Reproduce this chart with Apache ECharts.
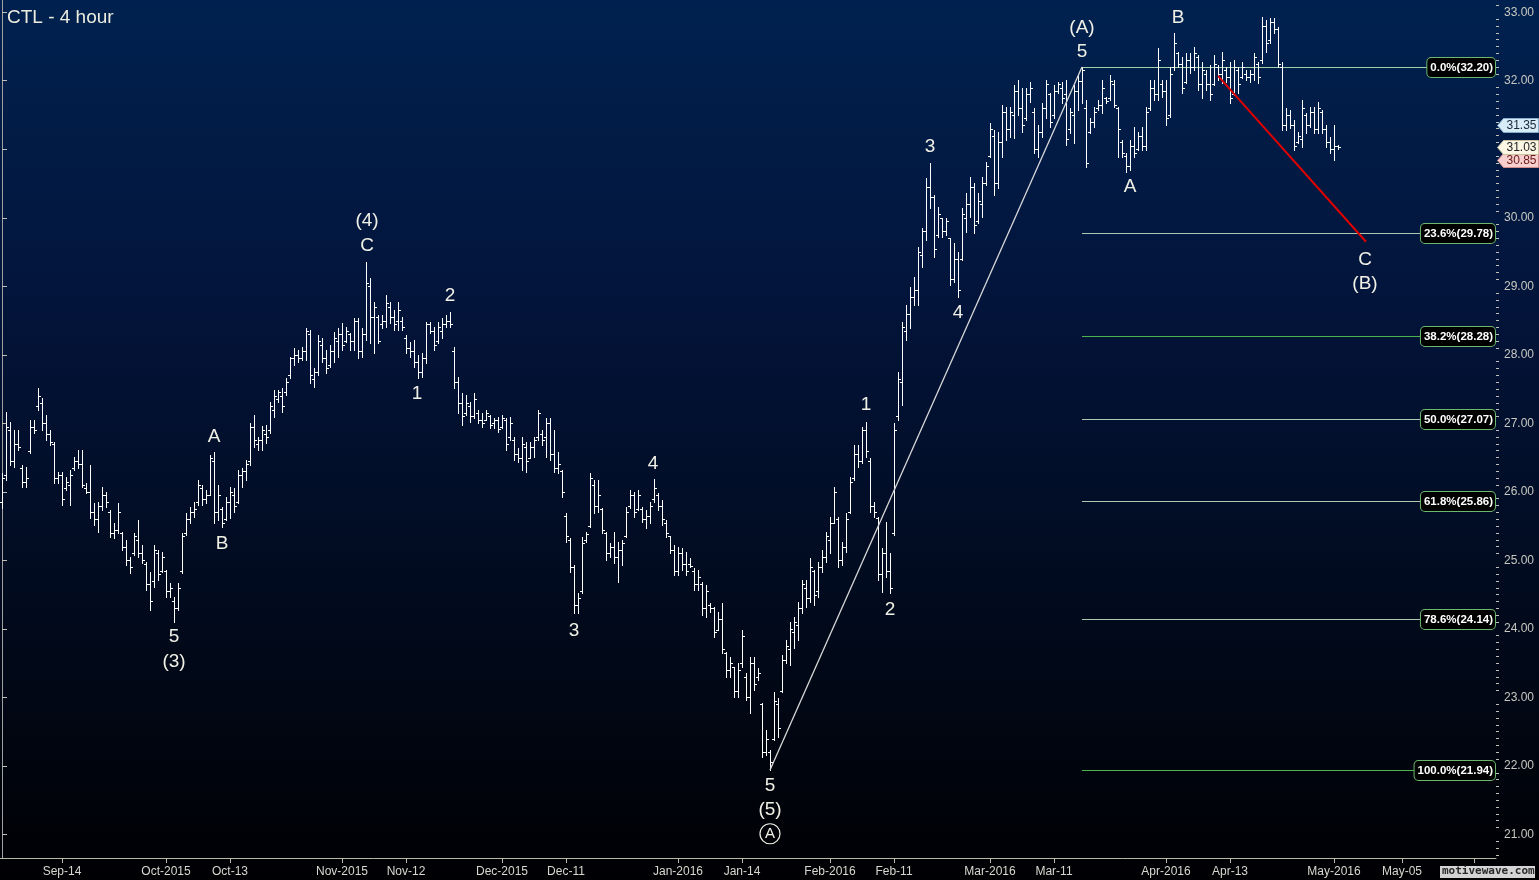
<!DOCTYPE html>
<html>
<head>
<meta charset="utf-8">
<script src="https://cdn.jsdelivr.net/npm/echarts/dist/echarts.min.js"></script>
<style>
html,body{margin:0;padding:0;background:#000;}
#chart{width:1539px;height:880px;}
</style>
</head>
<body>
<div id="chart"></div>
<script>
// ---------------- DATA ----------------
const barOpen = [
25.85,26.25,26.90,26.45,26.70,26.35,26.15,26.60,26.95,27.25,
27.30,27.00,26.85,26.70,26.20,26.25,26.05,26.10,26.35,26.45,
26.40,26.05,26.00,25.70,25.60,25.80,25.95,25.70,25.40,25.45,
25.40,25.20,25.00,25.10,25.30,25.10,24.95,24.65,24.70,25.10,
24.85,24.85,24.55,24.40,24.30,24.85,25.40,25.60,25.70,25.85,
26.05,25.90,25.95,26.45,25.70,25.75,25.60,25.85,25.95,25.85,
26.25,26.30,26.45,26.95,26.70,26.75,26.85,26.90,27.20,27.35,
27.40,27.45,27.70,27.95,28.00,27.95,28.05,28.30,27.65,27.75,
28.15,27.95,27.85,28.05,28.20,28.30,28.20,28.30,28.20,28.50,
28.05,28.30,29.00,28.55,28.55,28.45,28.50,28.70,28.55,28.50,
28.50,28.25,28.10,28.05,27.90,27.75,27.95,28.45,28.35,28.20,
28.35,28.45,28.50,28.05,27.60,27.30,27.15,27.25,27.10,27.15,
27.05,27.05,27.10,27.00,27.05,26.95,27.05,26.80,26.75,26.55,
26.50,26.65,26.50,26.65,26.80,26.85,26.80,27.00,26.55,26.35,
26.30,25.65,25.30,24.90,24.35,24.55,25.30,25.50,26.10,25.80,
25.75,25.40,25.10,25.20,25.05,25.15,25.35,25.80,25.95,25.75,
25.75,25.60,25.65,25.90,25.95,25.80,25.55,25.35,25.15,24.85,
25.10,24.95,24.95,24.85,24.65,24.65,24.30,24.35,24.30,23.98,
24.15,23.65,23.40,23.45,23.10,23.50,23.30,23.00,23.50,23.30,
22.90,22.20,22.20,22.40,22.90,23.10,23.55,23.70,23.95,24.05,
24.30,24.60,24.45,24.85,24.55,24.90,25.05,25.30,25.55,25.60,
25.00,25.20,25.70,26.20,26.55,26.45,26.90,26.45,25.80,25.62,
24.80,25.10,24.85,25.40,27.10,27.60,28.35,28.60,28.85,28.95,
29.45,29.80,30.45,30.30,29.75,30.00,29.80,29.70,29.10,29.40,
29.40,30.00,30.20,30.45,29.95,30.20,30.50,30.90,31.20,30.50,
31.10,31.55,31.30,31.50,31.85,31.60,31.45,31.80,31.55,31.00,
31.25,31.60,31.80,31.50,31.85,31.90,31.80,31.30,31.50,31.85,
32.00,31.60,31.25,31.40,31.60,31.65,31.75,31.75,31.95,31.60,
31.10,30.90,30.75,31.05,31.00,31.20,31.05,31.60,31.90,31.80,
31.95,31.85,31.50,32.20,32.40,32.25,31.98,32.30,32.20,32.35,
31.95,32.10,31.95,31.95,32.20,32.10,32.15,32.05,31.80,32.15,
32.05,32.10,32.05,32.10,32.25,32.30,32.80,32.60,32.85,32.75,
32.20,31.35,31.50,31.35,31.10,31.15,31.50,31.35,31.55,31.30,
31.55,31.30,31.10,31.00,31.04
];
const barHigh = [
26.28,27.16,27.02,26.90,26.90,26.39,26.36,27.05,27.05,27.51,
27.37,27.12,26.90,26.73,26.29,26.29,26.22,26.32,26.51,26.61,
26.61,26.13,26.39,25.84,25.85,26.07,26.00,25.74,25.55,25.84,
25.41,25.30,25.05,25.40,25.59,25.22,24.98,24.83,25.22,25.15,
25.12,24.86,24.67,24.46,24.67,25.40,25.69,25.78,25.85,26.17,
26.10,26.03,26.54,26.58,26.10,25.78,25.92,26.07,26.05,26.32,
26.35,26.46,27.00,27.12,26.80,26.96,26.98,27.31,27.49,27.49,
27.52,27.66,27.97,28.10,28.07,28.11,28.39,28.36,27.81,28.29,
28.24,28.07,28.14,28.33,28.39,28.46,28.41,28.32,28.54,28.54,
28.39,29.35,29.12,28.77,28.58,28.58,28.87,28.77,28.65,28.77,
28.55,28.29,28.19,28.22,28.00,28.03,28.48,28.48,28.41,28.48,
28.54,28.58,28.63,28.11,27.68,27.44,27.41,27.31,27.44,27.19,
27.15,27.19,27.12,27.08,27.09,27.12,27.08,27.09,26.80,26.64,
26.80,26.73,26.73,26.80,27.19,26.90,27.08,27.08,26.90,26.58,
26.32,25.69,25.33,24.93,24.52,25.34,25.41,26.28,26.17,26.17,
25.76,25.41,25.25,25.41,25.27,25.30,25.78,26.03,26.00,26.03,
25.78,25.73,25.85,26.19,25.98,25.88,25.59,25.36,25.22,25.19,
25.18,25.12,25.03,24.89,24.86,24.68,24.64,24.38,24.32,24.25,
24.38,23.66,23.59,23.45,23.50,23.98,23.36,23.59,23.59,23.43,
22.92,22.53,22.23,23.08,22.99,23.62,23.84,24.10,24.17,24.39,
24.71,24.71,25.03,24.86,24.98,25.15,25.41,25.63,26.07,25.63,
25.27,25.69,26.22,26.68,26.68,26.95,27.02,26.49,25.85,25.63,
25.18,25.56,25.11,27.00,27.75,28.48,28.73,28.99,29.14,29.57,
29.85,30.58,30.80,30.33,30.16,30.00,30.00,29.71,29.63,29.50,
30.14,30.36,30.59,30.51,30.36,30.59,30.81,31.38,31.28,31.25,
31.65,31.62,31.62,31.94,32.01,31.89,31.89,31.98,31.60,31.35,
31.67,32.01,31.82,31.94,31.98,31.98,32.01,31.60,31.94,32.08,
32.20,31.72,31.46,31.62,31.72,32.01,31.76,32.08,32.01,31.62,
31.13,30.95,31.13,31.32,31.25,31.32,31.62,32.01,32.01,32.48,
32.01,32.01,32.20,32.70,32.42,32.35,32.40,32.40,32.49,32.38,
32.27,32.16,32.23,32.38,32.23,32.42,32.20,32.27,32.30,32.20,
32.27,32.16,32.16,32.40,32.27,32.93,32.89,32.92,32.92,32.78,
32.27,31.60,31.57,31.43,31.25,31.72,31.53,31.62,31.62,31.69,
31.57,31.35,31.18,31.35,31.06
];
const barLow = [
25.77,26.17,26.39,26.36,26.61,26.07,26.07,26.56,26.86,27.19,
26.90,26.76,26.68,26.13,26.13,25.81,26.03,25.81,26.32,26.35,
26.07,25.98,25.62,25.52,25.41,25.74,25.78,25.34,25.33,25.40,
25.15,24.93,24.81,25.08,25.05,24.96,24.57,24.28,24.61,24.71,
24.83,24.46,24.46,24.10,24.28,24.82,25.37,25.55,25.63,25.81,
25.81,25.84,25.95,25.55,25.59,25.49,25.59,25.62,25.70,25.84,
26.07,26.17,26.39,26.65,26.61,26.61,26.71,26.86,27.09,27.31,
27.17,27.41,27.66,27.85,27.89,27.92,27.92,27.59,27.53,27.71,
27.89,27.73,27.82,27.89,27.97,28.07,28.19,28.07,28.07,27.95,
27.97,28.22,28.17,28.03,28.17,28.39,28.40,28.46,28.36,28.36,
28.36,28.03,27.97,27.82,27.66,27.68,27.88,28.32,28.07,28.17,
28.25,28.40,28.40,27.52,27.15,26.98,27.12,27.02,27.08,27.00,
26.95,27.05,26.93,26.93,26.87,26.93,26.61,26.76,26.46,26.44,
26.32,26.29,26.49,26.51,26.76,26.68,26.51,26.46,26.29,26.28,
25.92,25.27,24.83,24.23,24.23,24.52,25.27,25.49,25.69,25.71,
25.40,25.01,25.05,24.96,24.68,24.93,25.34,25.76,25.63,25.74,
25.56,25.47,25.55,25.85,25.74,25.52,25.34,25.11,24.79,24.79,
24.86,24.79,24.90,24.57,24.57,24.20,24.17,24.25,23.88,23.98,
23.65,23.30,23.30,23.01,23.01,23.45,22.96,22.77,23.11,23.25,
22.13,22.16,21.94,22.38,22.42,23.08,23.50,23.47,23.72,23.84,
24.23,24.32,24.39,24.35,24.47,24.83,24.98,25.11,25.55,24.90,
24.93,25.12,25.69,26.17,26.36,26.42,26.51,25.71,25.63,24.71,
24.54,24.76,24.52,25.37,27.05,27.27,28.22,28.39,28.73,28.73,
29.28,29.68,30.14,29.43,29.72,29.72,29.75,29.02,29.06,28.84,
29.38,29.79,30.01,29.78,29.92,30.01,30.48,30.89,30.33,30.43,
30.89,31.13,31.18,31.16,31.50,31.25,31.43,31.69,30.95,30.89,
31.18,31.46,31.32,31.46,31.82,31.67,31.06,31.24,31.09,31.57,
31.67,30.74,31.24,31.32,31.57,31.53,31.67,31.72,31.62,30.89,
30.89,30.67,30.70,30.89,30.99,30.99,30.99,31.57,31.72,31.72,
31.76,31.35,31.47,32.16,32.20,31.82,31.96,32.11,32.16,31.86,
31.75,31.86,31.72,31.94,32.01,31.96,31.98,31.67,31.79,31.82,
32.04,32.01,31.98,32.01,31.96,32.26,32.42,32.55,32.70,32.20,
31.28,31.28,31.31,30.99,31.09,31.03,31.24,31.32,31.24,31.24,
31.24,31.03,30.95,30.85,31.01
];
const barClose = [
26.20,26.95,26.45,26.70,26.65,26.15,26.20,26.95,26.90,27.40,
27.00,26.85,26.72,26.20,26.25,25.90,26.15,26.25,26.45,26.40,
26.10,26.00,25.70,25.60,25.80,25.95,25.85,25.40,25.45,25.70,
25.20,25.00,24.90,25.35,25.10,25.00,24.65,24.40,25.15,24.80,
25.05,24.55,24.60,24.30,24.60,25.35,25.60,25.70,25.75,26.10,
25.90,25.95,26.50,25.70,25.95,25.55,25.85,26.00,25.80,26.25,
26.30,26.40,26.95,26.75,26.75,26.90,26.80,27.25,27.40,27.45,
27.25,27.60,27.95,28.00,27.95,28.05,28.35,27.70,27.75,28.20,
27.95,27.80,28.05,28.25,28.30,28.15,28.35,28.20,28.50,28.05,
28.30,29.05,28.55,28.70,28.20,28.50,28.75,28.55,28.45,28.65,
28.40,28.10,28.05,27.90,27.75,27.95,28.45,28.35,28.15,28.40,
28.45,28.50,28.45,27.60,27.30,27.10,27.30,27.10,27.35,27.05,
27.00,27.15,26.98,27.05,26.92,27.08,26.70,27.00,26.55,26.50,
26.70,26.45,26.65,26.75,27.15,26.75,27.00,26.55,26.35,26.40,
26.00,25.35,24.90,24.35,24.45,25.25,25.38,26.20,25.80,25.95,
25.45,25.10,25.20,25.05,25.15,25.25,25.70,25.95,25.70,25.95,
25.60,25.65,25.80,26.05,25.80,25.60,25.40,25.15,24.85,25.10,
24.95,24.85,24.92,24.65,24.75,24.30,24.55,24.30,23.95,24.15,
23.70,23.40,23.50,23.10,23.40,23.90,23.00,23.50,23.20,23.35,
22.20,22.40,22.05,22.95,22.55,23.55,23.75,24.00,24.10,24.30,
24.65,24.45,24.90,24.50,24.90,25.05,25.35,25.55,26.00,25.00,
25.20,25.60,26.15,26.55,26.45,26.90,26.60,25.80,25.70,24.80,
25.10,24.85,24.60,26.90,27.65,28.40,28.60,28.85,28.95,29.50,
29.80,30.45,30.30,29.55,30.05,29.80,29.95,29.10,29.40,28.95,
30.05,30.20,30.45,29.90,30.25,30.50,30.75,31.30,30.50,31.10,
31.55,31.30,31.55,31.85,31.60,31.35,31.80,31.90,31.00,31.25,
31.60,31.95,31.40,31.85,31.95,31.75,31.15,31.55,31.85,32.00,
32.15,30.80,31.40,31.55,31.65,31.90,31.70,32.00,31.65,31.30,
30.95,30.75,31.05,30.95,31.20,31.05,31.55,31.90,31.80,32.30,
31.85,31.45,32.10,32.55,32.25,31.90,32.30,32.20,32.40,31.95,
32.15,31.95,31.80,32.25,32.10,32.30,32.05,31.75,32.20,31.95,
32.20,32.05,32.10,32.35,32.05,32.80,32.55,32.85,32.75,32.25,
31.35,31.50,31.35,31.05,31.20,31.60,31.35,31.55,31.30,31.60,
31.30,31.10,31.00,31.05,31.03
];

// x axis: bar index of each labelled date tick
const xTickIndex = [15,41,57,85,101,125,141,169,185,207,223,247,263,291,307,333,350];
const xTickLabels = ['Sep-14','Oct-2015','Oct-13','Nov-2015','Nov-12','Dec-2015','Dec-11','Jan-2016','Jan-14','Feb-2016','Feb-11','Mar-2016','Mar-11','Apr-2016','Apr-13','May-2016','May-05'];
const xExtraTicks = [368];
const yTickValues = [21,22,23,24,25,26,27,28,29,30,31,32,33];

// Fibonacci retracement
const fibPercents = ['0.0%','23.6%','38.2%','50.0%','61.8%','78.6%','100.0%'];
const fibPrices = [32.20,29.78,28.28,27.07,25.86,24.14,21.94];
const fibStartIndex = 270;

// Elliott wave labels (bar index, price position)
const waveText  = ['5','(3)','A','B','(4)','C','1','2','3','4','5','(5)','A','1','2','3','4','(A)','5','A','B','C','(B)'];
const waveIndex = [43,43,53,55,91.25,91.25,103.75,112,143,162.75,192,192,192,216,222,232,239,270,270,282,294,340.75,340.75];
const wavePrice = [23.88,23.52,26.80,25.24,29.95,29.59,27.43,28.86,23.97,26.41,21.71,21.36,21.01,27.27,24.28,31.03,28.61,32.77,32.42,30.45,32.92,29.38,29.03];
const waveCircled = [0,0,0,0,0,0,0,0,0,0,0,0,1,0,0,0,0,0,0,0,0,0,0];

// trend lines
const impulseLine = [[192,21.94],[270,32.20]];
const redLine = [[304,32.07],[341,29.65]];

// price tags on the axis
const tagValues = [31.35,30.85,31.03];

// ---------------- CHART ----------------
const FONT = '"Liberation Sans", Arial, sans-serif';
const fibLineColor = ['#9fd2a8','#a9c9b0','#4cb44c','#a9c9b0','#a9c9b0','#a9c9b0','#4cb44c'];
const tagFill = ['#d8ecf8','#f8cfcf','#fbf7e4'];
const tagStroke = ['#86aecb','#d08a8a','#c9c0a0'];
const tagTextColor = ['#1a2638','#6a1818','#222222'];

const ohlcData = barOpen.map((o,i)=>[i,o,barHigh[i],barLow[i],barClose[i]]);

const minorTicks = [];
for (let k = 207; k <= 331; k++) { if (k % 10 !== 0) minorTicks.push(k/10); }

function renderOHLC(params, api){
  const i = api.value(0);
  const pH = api.coord([i, api.value(2)]);
  const pL = api.coord([i, api.value(3)]);
  const yO = Math.round(api.coord([i, api.value(1)])[1]) + 0.5;
  const yC = Math.round(api.coord([i, api.value(4)])[1]) + 0.5;
  const x = Math.round(pH[0]) + 0.5;
  const s = {stroke:'#ffffff', lineWidth:1};
  return {type:'group', children:[
    {type:'line', shape:{x1:x, y1:Math.round(pH[1]), x2:x, y2:Math.round(pL[1])+1}, style:s},
    {type:'line', shape:{x1:x-2.5, y1:yO, x2:x, y2:yO}, style:s},
    {type:'line', shape:{x1:x, y1:yC, x2:x+2.5, y2:yC}, style:s}
  ]};
}

function renderFib(params, api){
  const k = api.value(2);
  const p = api.coord([api.value(0), api.value(1)]);
  const right = params.coordSys.x + params.coordSys.width;
  const y = Math.round(p[1]) + 0.5;
  return {type:'group', children:[
    {type:'line', shape:{x1:p[0], y1:y, x2:right-2, y2:y}, style:{stroke:fibLineColor[k], lineWidth:1}},
    {type:'text', x:right-1, y:y, style:{
      text: fibPercents[k] + '(' + fibPrices[k].toFixed(2) + ')',
      align:'right', verticalAlign:'middle', fill:'#ffffff',
      font:'bold 11.5px ' + FONT, backgroundColor:'#000000',
      borderColor:'#6cb86c', borderWidth:1, borderRadius:4, padding:[4,2,3,3]
    }}
  ]};
}

function renderWave(params, api){
  const k = api.value(2);
  const p = api.coord([api.value(0), api.value(1)]);
  const circled = waveCircled[k] === 1;
  const children = [{type:'text', x:p[0], y:p[1], style:{
    text: waveText[k], align:'center', verticalAlign:'middle',
    fill:'#f0f0e6', font:(circled ? '15px ' : '19px ') + FONT
  }}];
  if (circled) children.unshift({type:'circle', shape:{cx:p[0], cy:p[1], r:10}, style:{fill:'none', stroke:'#f0f0e6', lineWidth:1.2}});
  return {type:'group', children:children};
}

function renderTag(params, api){
  const k = api.value(1);
  const y = Math.round(api.coord([0, api.value(0)])[1]) + 0.5;
  const x0 = params.coordSys.x + params.coordSys.width + 1.5;
  const h = 7;
  return {type:'group', children:[
    {type:'polygon', shape:{points:[[x0,y],[x0+6,y-h],[x0+41,y-h],[x0+41,y+h],[x0+6,y+h]]},
      style:{fill:tagFill[k], stroke:tagStroke[k], lineWidth:1}},
    {type:'text', x:x0+24, y:y+0.5, style:{text: tagValues[k].toFixed(2), align:'center', verticalAlign:'middle',
      fill:tagTextColor[k], font:'12px ' + FONT}}
  ]};
}

const chart = echarts.init(document.getElementById('chart'), null, {renderer:'canvas', width:1539, height:880});
chart.setOption({
  animation:false,
  backgroundColor:{type:'linear', x:0, y:0, x2:0, y2:1, colorStops:[
    {offset:0, color:'#00214f'},
    {offset:0.35, color:'#03143a'},
    {offset:0.7, color:'#010a1c'},
    {offset:1, color:'#000003'}
  ]},
  title:{text:'CTL - 4 hour', left:7, top:8, padding:0,
    textStyle:{color:'#ececdf', fontSize:19, fontWeight:'normal', fontFamily:FONT}},
  grid:{left:0, right:43, top:0, bottom:22, containLabel:false},
  xAxis:{
    type:'value', min:-0.5, max:373.5,
    axisLine:{show:true, onZero:false, lineStyle:{color:'#b8b8a8', width:1}},
    axisTick:{show:true, customValues:xTickIndex.concat(xExtraTicks), length:5, lineStyle:{color:'#b8b8a8'}},
    axisLabel:{customValues:xTickIndex, color:'#d8d8d0', fontSize:12, fontFamily:FONT, margin:8,
      formatter:function(v){ const j = xTickIndex.indexOf(Math.round(v)); return j >= 0 ? xTickLabels[j] : ''; }},
    splitLine:{show:false}
  },
  yAxis:[{
    type:'value', position:'right', min:20.656, max:33.178, offset:0,
    axisLine:{show:true, lineStyle:{color:'#a0a0a0', width:1}},
    axisTick:{show:true, customValues:yTickValues, length:5, lineStyle:{color:'#c0c0b8'}},
    axisLabel:{customValues:yTickValues, color:'#c8c8c0', fontSize:12, fontFamily:FONT, margin:8,
      formatter:function(v){ return Number(v).toFixed(2); }},
    splitLine:{show:false}
  },{
    type:'value', position:'right', min:20.656, max:33.178, offset:0,
    axisLine:{show:false},
    axisTick:{show:true, customValues:minorTicks, length:3, lineStyle:{color:'#c0c0b8'}},
    axisLabel:{show:false},
    splitLine:{show:false}
  }],
  graphic:[
    {type:'rect', left:1440, top:866, shape:{width:95, height:12}, style:{fill:'#d4d4d4'}, z:10},
    {type:'text', left:1442, top:866, style:{text:'motivewave.com', fill:'#2a2a2a', font:'bold 11px "DejaVu Sans Mono", monospace'}, z:11}
  ],
  series:[
    {type:'custom', name:'fib', renderItem:renderFib, data:fibPrices.map((p,k)=>[fibStartIndex,p,k]),
      encode:{x:0,y:1}, silent:true, z:1},
    {type:'custom', name:'ohlc', renderItem:renderOHLC, data:ohlcData,
      encode:{x:0,y:[1,2,3,4]}, silent:true, z:2},
    {type:'line', name:'impulse', data:impulseLine, symbol:'none', silent:true, z:3,
      lineStyle:{color:'#d8d8d8', width:1.3}},
    {type:'line', name:'red', data:redLine, symbol:'none', silent:true, z:3,
      lineStyle:{color:'#e00000', width:2}},
    {type:'custom', name:'waves', renderItem:renderWave, data:waveText.map((t,k)=>[waveIndex[k],wavePrice[k],k]),
      encode:{x:0,y:1}, silent:true, z:4},
    {type:'custom', name:'tags', renderItem:renderTag, data:tagValues.map((v,k)=>[v,k]),
      encode:{y:0}, silent:true, z:5}
  ]
});
</script>
</body>
</html>
